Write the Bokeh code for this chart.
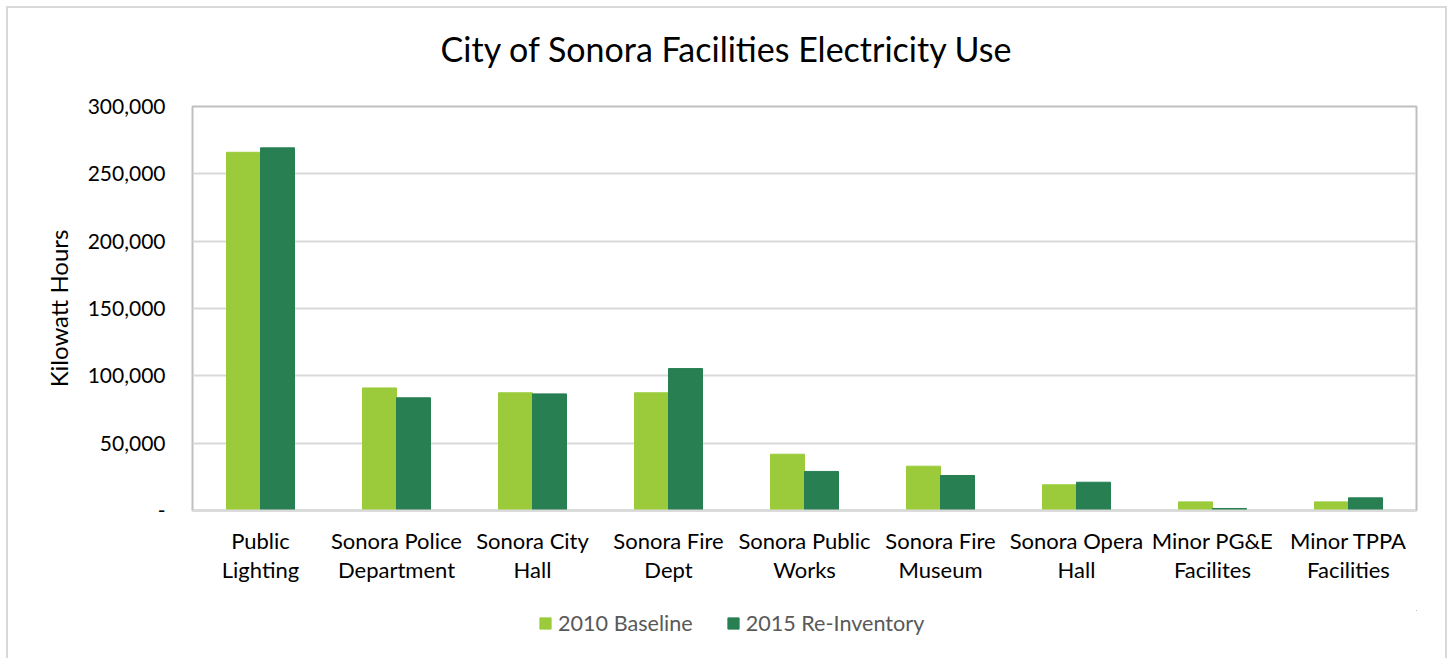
from bokeh.plotting import figure
from bokeh.layouts import column
from bokeh.models import FixedTicker, Legend, LegendItem, FactorRange, Range1d, Div
from bokeh.transform import dodge
from bokeh.embed import file_html
from bokeh.resources import INLINE

categories = ["Public\nLighting", "Sonora Police\nDepartment", "Sonora City\nHall",
              "Sonora Fire\nDept", "Sonora Public\nWorks", "Sonora Fire\nMuseum",
              "Sonora Opera\nHall", "Minor PG&E\nFacilites", "Minor TPPA\nFacilities"]
baseline_2010 = [266000, 91000, 87400, 87400, 41800, 32900, 19100, 6400, 6400]
reinventory_2015 = [269300, 83700, 86600, 105400, 29000, 26000, 21000, 1500, 9400]
series_names = ["2010 Baseline", "2015 Re-Inventory"]
y_ticks = [0, 50000, 100000, 150000, 200000, 250000, 300000]
y_tick_labels = ["-", "50,000", "100,000", "150,000", "200,000", "250,000", "300,000"]
chart_title = "City of Sonora Facilities Electricity Use"

FONT = "Lato"
LIGHT = "#9BCB3B"
DARK = "#277F52"
colors = [LIGHT, DARK]

# title block
title_div = Div(text=chart_title, width=1448, height=80, margin=0,
                styles={"font-family": "Lato", "font-size": "34px", "color": "#000000",
                        "text-align": "center", "line-height": "40px",
                        "padding-top": "29px", "padding-left": "4px", "box-sizing": "border-box"})

p = figure(width=1448, height=530, x_range=FactorRange(*categories), y_range=(0, 300000),
           output_backend="svg", toolbar_location=None, title=None,
           min_border_left=192, min_border_right=32, min_border_top=26, min_border_bottom=100)
p.border_fill_alpha = 0
p.background_fill_color = "white"

src = dict(cat=categories, a=baseline_2010, b=reinventory_2015)
r1 = p.vbar(x=dodge("cat", -0.125, range=p.x_range), top="a", width=0.25, source=src,
            fill_color=LIGHT, line_color=LIGHT)
r2 = p.vbar(x=dodge("cat", 0.125, range=p.x_range), top="b", width=0.25, source=src,
            fill_color=DARK, line_color=DARK)

p.outline_line_color = "#BFBFBF"
p.outline_line_width = 2

p.xgrid.grid_line_color = None
p.ygrid.grid_line_color = "#D9D9D9"
p.ygrid.grid_line_width = 2

p.yaxis.ticker = FixedTicker(ticks=y_ticks)
p.yaxis.major_label_overrides = {t: l for t, l in zip(y_ticks, y_tick_labels)}
p.yaxis.axis_line_color = None
p.yaxis.major_tick_line_color = None
p.yaxis.minor_tick_line_color = None
p.yaxis.major_label_text_font = FONT
p.yaxis.major_label_text_font_size = "21px"
p.yaxis.major_label_text_color = "#000000"
p.yaxis.major_label_standoff = 21
p.yaxis.axis_label = "Kilowatt Hours"
p.yaxis.axis_label_text_font = FONT
p.yaxis.axis_label_text_font_size = "24px"
p.yaxis.axis_label_text_font_style = "normal"
p.yaxis.axis_label_text_color = "#000000"
p.yaxis.axis_label_standoff = 12

p.xaxis.axis_line_color = "#D9D9D9"
p.xaxis.axis_line_width = 2
p.xaxis.major_tick_line_color = None
p.xaxis.minor_tick_line_color = None
p.xaxis.major_label_text_font = FONT
p.xaxis.major_label_text_font_size = "22px"
p.xaxis.major_label_text_color = "#000000"
p.xaxis.major_label_standoff = 10
p.xaxis.major_label_text_line_height = 1.1

# legend strip below the chart (frame aligned with the chart frame: x 192..1416)
lg = figure(width=1448, height=48, x_range=Range1d(0, 1), y_range=Range1d(0, 1),
            output_backend="svg", toolbar_location=None,
            min_border_left=192, min_border_right=32, min_border_top=0, min_border_bottom=0)
lg.border_fill_alpha = 0
lg.background_fill_alpha = 0
lg.xaxis.visible = False
lg.yaxis.visible = False
lg.grid.visible = False
lg.outline_line_color = None
items = []
for name, col in zip(series_names, colors):
    rr = lg.vbar(x=[5], top=[5], bottom=[4], width=0.1, fill_color=col, line_color=col)
    items.append(LegendItem(label=name, renderers=[rr]))
legend = Legend(items=items, orientation="horizontal", location=(346, 22),
                label_text_font=FONT, label_text_font_size="21.6px", label_text_color="#595959",
                glyph_width=14, glyph_height=14, label_height=20, label_standoff=6,
                spacing=33, padding=0, margin=0, border_line_color=None,
                background_fill_alpha=0)
lg.add_layout(legend, "center")

layout = column(title_div, p, lg, spacing=0)
layout.styles = {
    "background-image": ("linear-gradient(#D9D9D9, #D9D9D9), linear-gradient(#D9D9D9, #D9D9D9), "
                         "linear-gradient(#D9D9D9, #D9D9D9)"),
    "background-size": "2px 100%, 1440px 2px, 2px 100%",
    "background-position": "6px 6px, 6px 6px, 1445px 6px",
    "background-repeat": "no-repeat",
}

open("out.html", "w").write(file_html(layout, INLINE))
